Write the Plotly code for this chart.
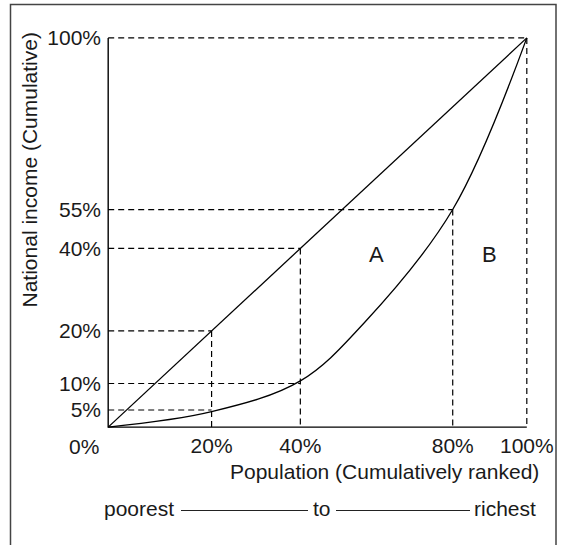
import numpy as np
import plotly.graph_objects as go

# ---------------- data (cumulative percentages) ----------------
# Lorenz curve as drawn: cumulative population (ranked) vs cumulative national income
population_pct = [0, 20, 40, 60, 80, 100]
income_pct = [0, 4.5, 10.5, 22, 55, 100]
equality_pct = [0, 100]                    # line of perfect equality

# labelled points (dashed guides go from these to the axes)
marked_population = [20, 40, 80, 100]
marked_income = [5, 10, 55, 100]
marked_equality = [20, 40]

x_tick_values = [20, 40, 80, 100]
x_tick_labels = ["20%", "40%", "80%", "100%"]
y_tick_values = [5, 10, 20, 40, 55, 100]
y_tick_labels = ["5%", "10%", "20%", "40%", "55%", "100%"]

# schematic (non-linear) scale used by the original drawing
scale_in = [0, 5, 10, 20, 40, 55, 80, 100]
scale_out = [0, 4.4, 11.2, 24.7, 45.9, 55.9, 82.3, 100]


def sc(v):
    return np.interp(v, scale_in, scale_out)


# ---------------- layout geometry ----------------
W_FIG, H_FIG = 568, 545
L, R, T, B = 104, 37, 34, 114
PW, PH = W_FIG - L - R, H_FIG - T - B


def px_x(px):  # pixel -> paper
    return (px - L) / PW


def px_y(py):
    return (H_FIG - B - py) / PH


FONT = "Liberation Sans, Arial, Helvetica, sans-serif"
TXT = "#1a1a1a"

fig = go.Figure()

# dashed guide lines (from the marked points on the curves to the axes)
gx, gy = [], []
for p, i in zip(marked_population, marked_income):
    gx += [sc(0), sc(p), None]
    gy += [sc(i), sc(i), None]
for v in marked_equality:
    gx += [sc(0), sc(v), None]
    gy += [sc(v), sc(v), None]
for p in marked_population:
    top = max(p if p in marked_equality else 0,
              marked_income[marked_population.index(p)])
    gx += [sc(p), sc(p), None]
    gy += [sc(top), sc(0), None]
fig.add_trace(go.Scatter(x=gx, y=gy, mode="lines",
                         line=dict(color="black", width=1.2, dash="6px,4px"),
                         hoverinfo="skip", showlegend=False))

# axes (solid left and bottom)
fig.add_trace(go.Scatter(x=[sc(0), sc(0), sc(100)], y=[sc(100), sc(0), sc(0)],
                         mode="lines", line=dict(color="black", width=1.4),
                         hoverinfo="skip", showlegend=False))

# line of equality
fig.add_trace(go.Scatter(x=sc(equality_pct), y=sc(equality_pct), mode="lines",
                         line=dict(color="black", width=1.3),
                         hoverinfo="skip", showlegend=False))

# Lorenz curve
fig.add_trace(go.Scatter(x=sc(population_pct), y=sc(income_pct), mode="lines",
                         line=dict(color="black", width=1.3, shape="spline", smoothing=1.0),
                         hoverinfo="skip", showlegend=False))

annotations = []
for lab, xv, yv in [("A", 64.2, 44.3), ("B", 91.2, 44.3)]:
    annotations.append(dict(x=xv, y=yv, xref="x", yref="y", text=lab, showarrow=False,
                            font=dict(size=22, color=TXT, family=FONT)))
annotations.append(dict(x=px_x(101), y=px_y(446), xref="paper", yref="paper", text="0%",
                        showarrow=False, xanchor="right", yanchor="middle",
                        font=dict(size=21, color=TXT, family=FONT)))
annotations.append(dict(x=px_x(29.5), y=px_y(170), xref="paper", yref="paper",
                        text="National income (Cumulative)", textangle=-90, showarrow=False,
                        xanchor="center", yanchor="middle",
                        font=dict(size=21, color=TXT, family=FONT)))
annotations.append(dict(x=px_x(384), y=px_y(472), xref="paper", yref="paper",
                        text="Population (Cumulatively ranked)", showarrow=False,
                        xanchor="center", yanchor="middle",
                        font=dict(size=21, color=TXT, family=FONT)))
annotations.append(dict(x=px_x(176), y=px_y(508), xref="paper", yref="paper", text="poorest",
                        showarrow=False, xanchor="right", yanchor="middle",
                        font=dict(size=21, color=TXT, family=FONT)))
annotations.append(dict(x=px_x(321.5), y=px_y(508), xref="paper", yref="paper", text="to",
                        showarrow=False, xanchor="center", yanchor="middle",
                        font=dict(size=21, color=TXT, family=FONT)))
annotations.append(dict(x=px_x(472), y=px_y(508), xref="paper", yref="paper", text="richest",
                        showarrow=False, xanchor="left", yanchor="middle",
                        font=dict(size=21, color=TXT, family=FONT)))

shapes = [
    dict(type="line", xref="paper", yref="paper", x0=px_x(181), x1=px_x(308),
         y0=px_y(510.5), y1=px_y(510.5), line=dict(color="#222", width=1.2)),
    dict(type="line", xref="paper", yref="paper", x0=px_x(336), x1=px_x(470),
         y0=px_y(510.5), y1=px_y(510.5), line=dict(color="#222", width=1.2)),
    dict(type="rect", xref="paper", yref="paper", x0=px_x(10.5), x1=px_x(556),
         y0=px_y(580), y1=px_y(4.5), line=dict(color="#444", width=1.5),
         fillcolor="rgba(0,0,0,0)"),
]

fig.update_layout(
    width=W_FIG, height=H_FIG,
    margin=dict(l=L, r=R, t=T, b=B, pad=0),
    paper_bgcolor="white", plot_bgcolor="white",
    showlegend=False,
    annotations=annotations,
    shapes=shapes,
    xaxis=dict(range=[-1, 101], showgrid=False, zeroline=False, showline=False,
               tickmode="array", tickvals=list(sc(x_tick_values)), ticktext=x_tick_labels,
               ticks="", ticklabelstandoff=0,
               tickfont=dict(size=21, color=TXT, family=FONT), fixedrange=True),
    yaxis=dict(range=[-1, 101], showgrid=False, zeroline=False, showline=False,
               tickmode="array", tickvals=list(sc(y_tick_values)), ticktext=y_tick_labels,
               ticks="", ticklabelstandoff=2,
               tickfont=dict(size=21, color=TXT, family=FONT), fixedrange=True),
)

fig.write_html("out.html", config={"displayModeBar": False},
               post_script="document.body.style.margin='0';")
